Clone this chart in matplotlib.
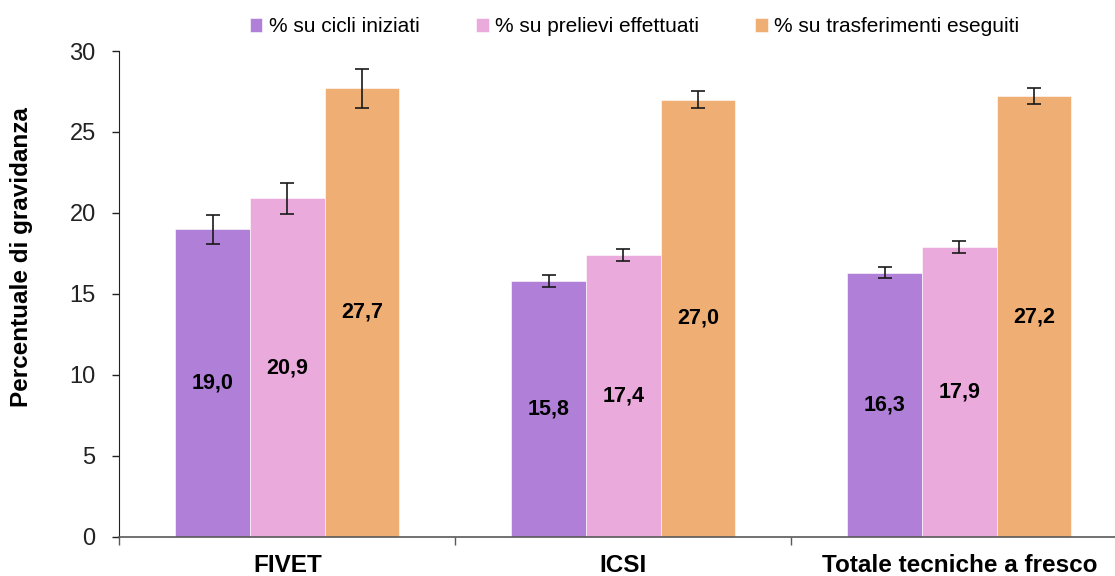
import numpy as np
import matplotlib.pyplot as plt

plt.rcParams['font.family'] = ['Liberation Sans', 'DejaVu Sans']

categories = ["FIVET", "ICSI", "Totale tecniche a fresco"]
series_names = ["% su cicli iniziati", "% su prelievi effettuati", "% su trasferimenti eseguiti"]
values = [
    [19.0, 15.8, 16.3],
    [20.9, 17.4, 17.9],
    [27.7, 27.0, 27.2],
]
errors = [
    [0.9, 0.37, 0.33],
    [0.96, 0.38, 0.37],
    [1.2, 0.55, 0.5],
]
labels = [
    ["19,0", "15,8", "16,3"],
    ["20,9", "17,4", "17,9"],
    ["27,7", "27,0", "27,2"],
]
colors = ["#B07FD8", "#EAAADB", "#EEAE74"]

W, H = 1115, 576
fig = plt.figure(figsize=(W / 100, H / 100), dpi=100)
# axes runs a bit past the right edge of the picture, as in the original
ax = fig.add_axes([119.3 / W, 1 - 536.7 / H, 1008 / W, (536.7 - 51) / H])

x = np.arange(len(categories))
bw = 0.2222
for i, name in enumerate(series_names):
    pos = x + (i - 1) * bw
    ax.bar(pos, values[i], width=bw, color=colors[i], edgecolor='white', linewidth=0.4,
           label=name, zorder=2)
    ax.errorbar(pos, values[i], yerr=errors[i], fmt='none', ecolor='#1a1a1a',
                elinewidth=1.2, capsize=5, capthick=1.2, zorder=3)
    for p, v, t in zip(pos, values[i], labels[i]):
        ax.text(p, v / 2, t, ha='center', va='center', fontsize=15.5, fontweight='bold',
                color='black', zorder=4)

ax.set_xlim(-0.5, 2.5)
ax.set_ylim(0, 30)
ax.set_yticks(range(0, 31, 5))
ax.tick_params(axis='y', labelsize=17, length=5, width=1, colors='#222222', pad=12)
ax.set_xticks([-0.5, 0.5, 1.5])
ax.set_xticklabels([])
ax.tick_params(axis='x', length=6, width=1, color='#595959')
for xi, c in zip(x, categories):
    ax.text(xi, -1.75, c, ha='center', va='center', fontsize=17.5, fontweight='bold')

for s in ['top', 'right']:
    ax.spines[s].set_visible(False)
ax.spines['left'].set_color('#222222')
ax.spines['bottom'].set_color('#595959')
ax.spines['bottom'].set_linewidth(1.2)

fig.text(22 / W, 1 - 257 / H, "Percentuale di gravidanza", rotation=90, ha='center',
         va='center', fontsize=17.5, fontweight='bold')

fig.legend(loc='center', bbox_to_anchor=(634.5 / W, 1 - 27 / H), ncol=3, frameon=False,
           fontsize=15, handlelength=0.62, handleheight=0.62, handletextpad=0.3,
           columnspacing=2.7)

fig.savefig("out.png", dpi=100)
